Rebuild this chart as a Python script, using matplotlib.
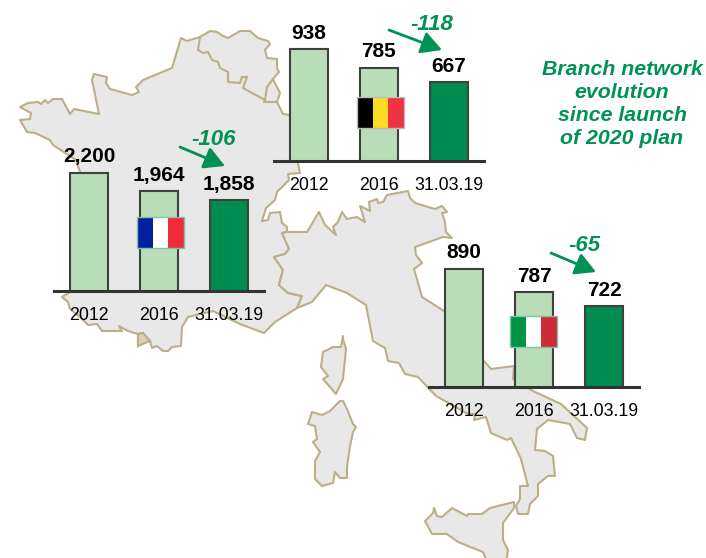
import matplotlib
matplotlib.use('Agg')
import matplotlib.pyplot as plt
from matplotlib.patches import Polygon, Rectangle, FancyArrowPatch

W, H = 706, 558

periods = ['2012', '2016', '31.03.19']
france = [2200, 1964, 1858]
belgium = [938, 785, 667]
italy = [890, 787, 722]
france_delta = '-106'
belgium_delta = '-118'
italy_delta = '-65'
title_lines = 'Branch network\nevolution\nsince launch\nof 2020 plan'

# map outlines, traced in image pixels
france_outline = [(20,107),(28,103),(38,102),(41,104),(45,100),(48,103),(53,99),(62,99),(70,114),(74,109),(99,114),(92,80),(94,74),(107,77),(106,83),
    (110,89),(132,95),(139,92),(136,87),(143,80),(172,68),(181,38),(187,41),(200,37),(210,31),(217,32),(223,36),(228,38),(240,31),(250,31),(258,38),
    (268,41),(270,44),(265,50),(267,58),(277,59),(277,68),(279,72),(273,79),(280,93),(277,102),(283,114),(290,115),(296,140),(298,163),(300,173),
    (288,174),(289,180),(277,192),(275,200),(266,208),(262,221),(268,220),(270,213),(280,212),(282,223),(287,227),(287,232),(282,233),(289,249),(285,254),
    (274,257),(283,270),(279,285),(288,293),(302,296),(297,308),(275,322),(264,333),(240,324),(213,311),(188,317),(182,327),(181,346),(172,347),(168,351),
    (163,351),(157,346),(152,348),(150,341),(143,333),(138,334),(138,346),(138,334),(128,331),(119,326),(122,331),(102,331),(97,324),(88,325),(80,317),
    (70,309),(68,302),(62,297),(70,292),(85,220),(80,172),(76,160),(53,145),(50,140),(35,133),(27,132),(20,120),(30,119),(31,113)]
belgium_border = [(200,37),(198,50),(203,53),(208,52),(212,60),(218,62),(220,68),(228,72),(228,82),(240,83),(242,77),(247,77),(243,88),(265,100),(267,87),(273,79)]
luxembourg_border = [(265,100),(264,102),(277,102)]
andorra_outline = [(138,334),(143,333),(150,341),(138,346)]
italy_outline = [(287,232),(307,232),(319,212),(325,225),(336,235),(333,227),(338,222),(342,212),(347,219),(357,217),(365,222),(360,206),(370,211),(369,202),
    (377,199),(378,203),(383,202),(387,195),(408,191),(410,198),(415,203),(435,209),(442,206),(447,212),(442,213),(445,222),(446,232),(452,238),(443,237),
    (415,247),(416,255),(422,263),(414,269),(422,297),(444,311),(465,340),(484,361),(491,369),(514,366),(513,379),(533,391),(561,404),(587,428),(585,440),
    (577,438),(570,424),(548,420),(537,429),(535,450),(545,451),(553,456),(555,476),(548,476),(538,484),(538,496),(530,504),(528,514),(518,514),(516,506),
    (520,499),(520,486),(528,486),(521,459),(511,438),(507,440),(491,433),(486,417),(474,420),(475,414),(468,414),(436,396),(418,377),(405,374),(399,363),
    (388,361),(385,348),(373,341),(366,305),(347,293),(326,285),(312,302),(297,308),(302,296),(288,293),(279,285),(283,270),(274,257),(285,254),(289,249),(282,233)]
sicily_outline = [(514,502),(490,508),(482,514),(468,514),(467,516),(452,508),(442,517),(437,516),(434,508),(433,513),(425,521),(432,534),(447,534),(458,542),
    (483,552),(487,562),(506,562),(508,550),(503,540),(503,523),(514,508)]
corsica_outline = [(343,336),(341,347),(333,347),(323,352),(321,367),(328,376),(323,379),(336,394),(343,379),(346,349),(343,339)]
sardinia_outline = [(340,401),(330,411),(322,415),(312,412),(308,424),(315,426),(317,439),(313,442),(320,452),(315,461),(315,479),(322,486),(333,483),(335,472),
    (340,478),(347,478),(347,467),(350,446),(353,432),(356,427),(353,424),(347,409),(343,401)]

plt.rcParams['font.family'] = ['Liberation Sans', 'DejaVu Sans']
LAND = '#E8E8E8'
COAST = '#BCAE88'
LIGHT = '#B9DDB8'
DARK = '#008C50'
EDGE = '#404040'
GREEN = '#009254'

fig = plt.figure(figsize=(W / 100, H / 100), dpi=100)

# background map
bg = fig.add_axes([0, 0, 1, 1])
bg.set_xlim(0, W)
bg.set_ylim(H, 0)
bg.axis('off')
for outline in [france_outline, italy_outline, sicily_outline, corsica_outline, sardinia_outline]:
    bg.add_patch(Polygon(outline, closed=True, fc=LAND, ec=COAST, lw=1.5, joinstyle='round'))
bg.add_patch(Polygon(andorra_outline, closed=True, fc='#DDD0B4', ec=COAST, lw=1.5))
for line in [belgium_border, luxembourg_border]:
    bg.plot(*zip(*line), color=COAST, lw=1.5)


def group(values, left, baseline, ylim):
    ax = fig.add_axes([left / W, 1 - baseline / H, 210 / W, 130 / H])
    ax.patch.set_alpha(0)
    bars = ax.bar(range(3), values, width=0.55, color=[LIGHT, LIGHT, DARK], edgecolor=EDGE, linewidth=1.5)
    ax.bar_label(bars, labels=[f'{v:,}' for v in values], padding=4.5, fontsize=15, fontweight='bold', color='black')
    ax.set_xlim(-0.5, 2.5)
    ax.set_ylim(*ylim)
    ax.set_xticks(range(3))
    ax.set_xticklabels(periods, fontsize=12.8)
    ax.tick_params(axis='x', length=0, pad=11.5)
    ax.set_yticks([])
    for s in ['top', 'left', 'right']:
        ax.spines[s].set_visible(False)
    ax.spines['bottom'].set_linewidth(2.2)
    ax.spines['bottom'].set_color('#333333')
    return ax


group(france, 54, 291, (723, 2344))
group(belgium, 274, 161, (26, 1084))
group(italy, 429, 387, (364, 942))

# flags, arrows and notes on top
top = fig.add_axes([0, 0, 1, 1], zorder=10)
top.set_xlim(0, W)
top.set_ylim(H, 0)
top.axis('off')


def flag(x, y, colors, frame):
    w = 47 / 3
    for i, c in enumerate(colors):
        top.add_patch(Rectangle((x + i * w, y), w, 31, fc=c, ec='none'))
    top.add_patch(Rectangle((x, y), 47, 31, fc='none', ec=frame, lw=1))


flag(137, 217, ['#00209F', '#FFFFFF', '#EF2B3D'], '#7FC4A0')
flag(357, 97, ['#000000', '#FDDA24', '#EF3340'], '#BBBBBB')
flag(510, 316, ['#009246', '#FFFFFF', '#CE2B37'], '#7FC4A0')

for start, end in [((180, 147), (225, 166)), ((389, 30), (442, 50)), ((551, 253), (596, 272))]:
    top.add_patch(FancyArrowPatch(start, end, arrowstyle='-|>,head_length=0.62,head_width=0.34', mutation_scale=20,
                                  color=GREEN, lw=2, shrinkA=0, shrinkB=0))

for label, x, y in [(france_delta, 214, 139.5), (belgium_delta, 432, 24), (italy_delta, 584, 245.5)]:
    top.text(x, y, label, color=GREEN, fontsize=16, fontweight='bold', style='italic', ha='center', va='center')

top.text(622, 104, title_lines, color=GREEN, fontsize=15.3, fontweight='bold', style='italic',
         ha='center', va='center', linespacing=1.25)

fig.savefig('out.png', dpi=100)
